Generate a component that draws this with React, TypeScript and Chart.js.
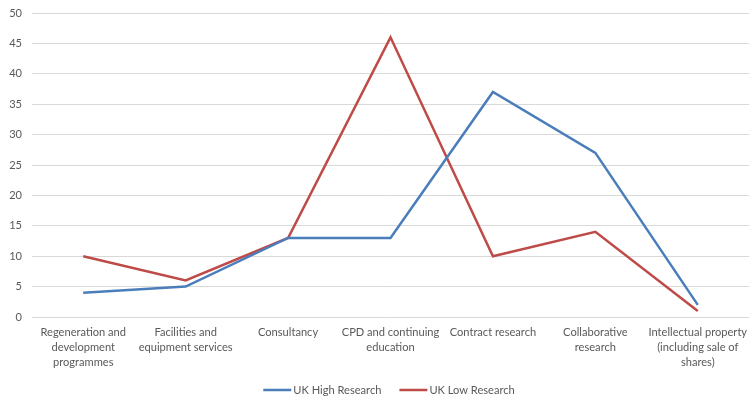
import React, { useEffect, useRef } from "react";
import { Chart, registerables } from "chart.js";

Chart.register(...registerables);

const categories: string[][] = [
  ["Regeneration and", "development", "programmes"],
  ["Facilities and", "equipment services"],
  ["Consultancy"],
  ["CPD and continuing", "education"],
  ["Contract research"],
  ["Collaborative", "research"],
  ["Intellectual property", "(including sale of", "shares)"],
];
const highResearch = [4, 5, 13, 13, 37, 27, 2];
const lowResearch = [10, 6, 13, 46, 10, 14, 1];
const seriesNames = ["UK High Research", "UK Low Research"];
const seriesColors = ["#4a7ebb", "#be4b48"];

const FAMILY = "Lato, 'Open Sans', sans-serif";
const FONT_SIZE = 11.1;

const bottomLegend = {
  id: "bottomLegend",
  afterDraw(chart: any) {
    const { ctx, chartArea } = chart;
    const lineLen = 28;
    const gap = 2;
    const itemGap = 18;
    ctx.save();
    ctx.font = `${FONT_SIZE}px ${FAMILY}`;
    const items = chart.data.datasets.map((d: any) => ({
      label: d.label,
      color: d.borderColor,
      w: ctx.measureText(d.label).width,
    }));
    const total =
      items.reduce((a: number, it: any) => a + lineLen + gap + it.w, 0) +
      itemGap * (items.length - 1);
    let x = (chartArea.left + 746) / 2 - total / 2;
    const y = 390;
    ctx.textBaseline = "middle";
    ctx.textAlign = "left";
    for (const it of items) {
      ctx.strokeStyle = it.color;
      ctx.lineWidth = 2.5;
      ctx.beginPath();
      ctx.moveTo(x, y);
      ctx.lineTo(x + lineLen, y);
      ctx.stroke();
      x += lineLen + gap;
      ctx.fillStyle = "#595959";
      ctx.fillText(it.label, x, y);
      x += it.w + itemGap;
    }
    ctx.restore();
  },
};

export default function App() {
  const ref = useRef<HTMLCanvasElement>(null);
  useEffect(() => {
    document.body.style.margin = "0";
    const font = { family: FAMILY, size: FONT_SIZE };
    const chart = new Chart(ref.current!, {
      type: "line",
      data: {
        labels: categories,
        datasets: seriesNames.map((name, i) => ({
          label: name,
          data: i === 0 ? highResearch : lowResearch,
          borderColor: seriesColors[i],
          backgroundColor: seriesColors[i],
          borderWidth: 2.5,
          pointRadius: 0,
          tension: 0,
        })),
      },
      plugins: [bottomLegend],
      options: {
        responsive: false,
        animation: false,
        layout: { padding: { left: 0, right: -3, top: 13, bottom: 19 } },
        plugins: {
          legend: { display: false },
          tooltip: { enabled: false },
        },
        scales: {
          x: {
            offset: true,
            grid: { display: false, drawTicks: false },
            border: { display: false },
            ticks: {
              color: "#595959",
              font: { family: FAMILY, size: FONT_SIZE, lineHeight: 15 / FONT_SIZE },
              maxRotation: 0,
              autoSkip: false,
              padding: 8,
            },
            afterFit: (s: any) => {
              s.paddingLeft = 0;
              s.paddingRight = 0;
            },
          },
          y: {
            min: 0,
            max: 50,
            ticks: { stepSize: 5, color: "#595959", font, padding: 10 },
            grid: { color: "#d9d9d9", drawTicks: false },
            border: { display: false },
            afterFit: (s: any) => {
              s.width = 32;
              s.paddingTop = 0;
              s.paddingBottom = 0;
            },
          },
        },
      },
    });
    return () => chart.destroy();
  }, []);
  return (
    <div style={{ position: "fixed", left: 0, top: 0, width: 749, height: 397 }}>
      <canvas ref={ref} width={749} height={397} />
    </div>
  );
}
